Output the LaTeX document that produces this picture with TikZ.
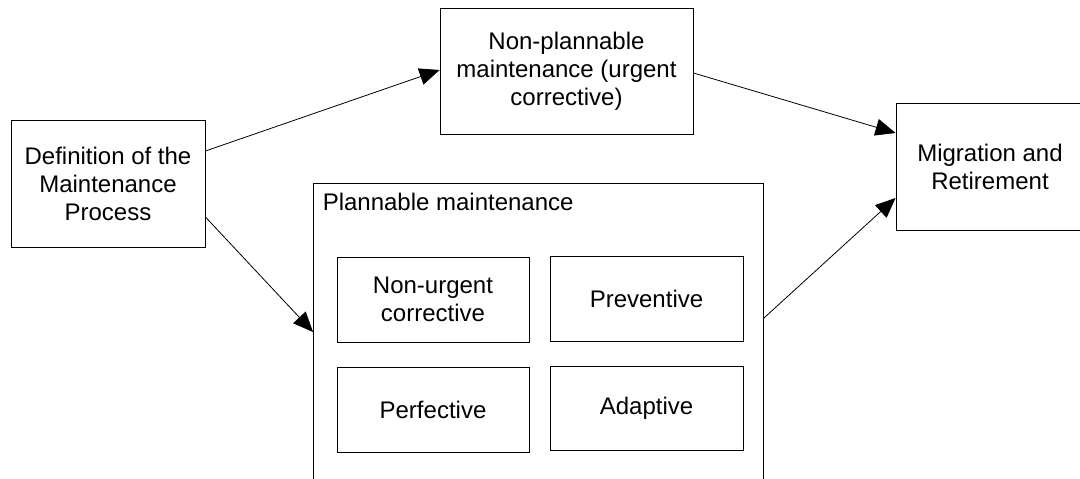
\documentclass[tikz,border=0pt]{standalone}
\usepackage{fontspec}
\setmainfont{Liberation Sans}
\usetikzlibrary{arrows.meta}
\begin{document}
\begin{tikzpicture}[x=1pt,y=-1pt,
  box/.style={draw=black, line width=0.9pt, inner sep=0pt, align=center,
    font=\fontsize{24}{28}\selectfont},
  conn/.style={line width=0.8pt, -{Triangle[length=20pt,width=17pt]}},
  lbl/.style={inner sep=0pt, font=\fontsize{24}{28}\selectfont}]
\useasboundingbox (0,0) rectangle (1080,479);
\clip (0,0) rectangle (1080,479);
\fill[white] (0,0) rectangle (1080,479);
\node[box, minimum width=194pt, minimum height=127pt] (def) at (108,183.5)
  {Definition of the\\Maintenance\\Process};
\node[box, minimum width=253pt, minimum height=126pt] (nonplan) at (566.5,71)
  {Non-plannable\\maintenance (urgent\\corrective)};
\node[box, minimum width=188pt, minimum height=127pt] (mig) at (990,166.5)
  {Migration and\\Retirement};
\node[box, minimum width=450pt, minimum height=312pt] (plan) at (538.5,339) {};
\node[lbl, anchor=base west] (planlbl) at ([xshift=9.5pt,yshift=-28pt]plan.north west)
  {Plannable maintenance};
\node[box, minimum width=192pt, minimum height=85pt] (nuc) at (433,299.5)
  {Non-urgent\\corrective};
\node[box, minimum width=193pt, minimum height=85pt] (prev) at (646.5,298.5)
  {Preventive};
\node[box, minimum width=192pt, minimum height=85pt] (perf) at (433,409.5)
  {Perfective};
\node[box, minimum width=193pt, minimum height=84pt] (adap) at (646.5,408)
  {Adaptive};
\draw[conn] ([yshift=32.5pt]def.east) -- ([yshift=1pt]nonplan.west);
\draw[conn] ([yshift=-33.5pt]def.east) -- ([yshift=7pt]plan.west);
\draw[conn] ([yshift=-2pt]nonplan.east) -- ([yshift=33.5pt]mig.west);
\draw[conn] ([yshift=21pt]plan.east) -- ([yshift=-31.5pt]mig.west);
\end{tikzpicture}
\end{document}
